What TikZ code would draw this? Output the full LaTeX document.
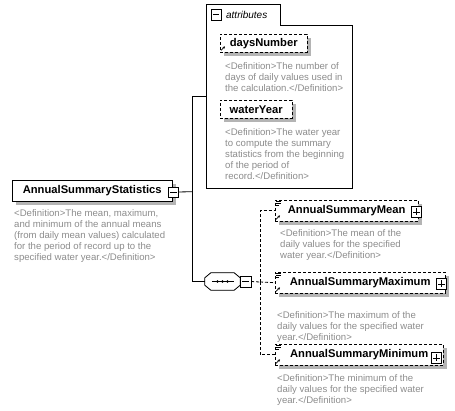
\documentclass[tikz,border=0pt]{standalone}
\usepackage{fontspec}
\setmainfont{Liberation Sans}
\usetikzlibrary{arrows.meta, positioning}
\definecolor{desctext}{RGB}{140,140,140}
\definecolor{shade}{RGB}{180,180,180}
\tikzset{
  shadowed/.style={preaction={fill=shade, draw=none, solid, transform canvas={shift={(4pt,-4pt)}}}},
  elem/.style={rectangle, draw=black, fill=white, anchor=north west, inner sep=0pt,
               font=\bfseries\fontsize{11.2}{13}\selectfont, minimum height=21pt, shadowed},
  optelem/.style={elem, dash pattern=on 3pt off 2pt},
  desc/.style={align=left, inner sep=0pt, text=desctext, font=\fontsize{9.6}{11}\selectfont},
  minusbtn/.style={rectangle, draw=black, fill=white, minimum size=10.5pt, inner sep=0pt,
               path picture={\draw ([xshift=2pt]path picture bounding box.west) -- ([xshift=-2pt]path picture bounding box.east);}},
  plusbtn/.style={rectangle, draw=black, fill=white, minimum size=10.5pt, inner sep=0pt,
               path picture={\draw ([xshift=2pt]path picture bounding box.west) -- ([xshift=-2pt]path picture bounding box.east);
                             \draw ([yshift=2pt]path picture bounding box.south) -- ([yshift=-2pt]path picture bounding box.north);}},
  seqbox/.style={rectangle, minimum width=35pt, minimum height=17pt, inner sep=0pt},
  link/.style={draw=black, line width=0.8pt},
  optlink/.style={link, dash pattern=on 3pt off 2pt},
  refmark/.style={-{Stealth[length=2.5pt,width=2.5pt]}, line width=0.7pt},
}
\newcommand{\octagonpath}[1]{([xshift=6pt]#1.north west) -- ([xshift=-6pt]#1.north east)
  -- ([yshift=-5pt]#1.north east) -- ([yshift=5pt]#1.south east) -- ([xshift=-6pt]#1.south east)
  -- ([xshift=6pt]#1.south west) -- ([yshift=5pt]#1.south west) -- ([yshift=-5pt]#1.north west) -- cycle}

\begin{document}
\begin{tikzpicture}[x=1pt, y=1pt]
  \useasboundingbox (0,0) rectangle (455,-410);

  % Root element
  \node[elem, minimum width=160pt, minimum height=20.5pt] (root) at (12,-180) {AnnualSummaryStatistics};
  \node[minusbtn] (rootbtn) at ([xshift=1pt, yshift=-1.5pt]root.east) {};
  \node[desc, below right=8pt and 2pt of root.south west] (rootdesc)
    {<Definition>The mean, maximum,\\and minimum of the annual means\\(from daily mean values) calculated\\for the period of record up to the\\specified water year.</Definition>};

  % Attributes group
  \node[rectangle, anchor=north west, fill=white, minimum width=146pt, minimum height=163pt, inner sep=0pt] (attr) at (206,-25) {};
  \node[rectangle, anchor=south west, fill=white, minimum width=74pt, minimum height=20pt, inner sep=0pt] (attrtab) at (attr.north west) {};
  \draw[link] (attr.south west) -- (attrtab.north west) -- (attrtab.north east)
    -- (attrtab.south east) -- (attr.north east) -- (attr.south east) -- cycle;
  \node[minusbtn] (attrbtn) at (216,-14.5) {};
  \node[anchor=west, inner sep=0pt, font=\itshape\fontsize{10}{12}\selectfont, right=4.5pt of attrbtn] (attrlabel) {attributes};

  \node[optelem, minimum width=87pt, minimum height=18pt] (days) at (220,-34) {daysNumber};
  \node[desc, below right=10pt and 5pt of days.south west] (daysdesc)
    {<Definition>The number of\\days of daily values used in\\the calculation.</Definition>};
  \node[optelem, minimum width=72pt, minimum height=18pt] (year) at (220,-100) {waterYear};
  \node[desc, below right=9.5pt and 5pt of year.south west] (yeardesc)
    {<Definition>The water year\\to compute the summary\\statistics from the beginning\\of the period of\\record.</Definition>};

  % Sequence
  \node[seqbox] (seq) at (222.5,-281.5) {};
  \fill[shade, shift={(3.5,-3.5)}] \octagonpath{seq};
  \filldraw[link, fill=white] \octagonpath{seq};
  \node[minusbtn] (seqbtn) at ([xshift=5.5pt]seq.east) {};
  \draw[link] ([xshift=7pt]seq.west) -- ([xshift=-6pt]seq.east);
  \fill (seq.center) circle (1.4pt) ++(-5,0) circle (1.4pt) ++(10,0) circle (1.4pt);

  % Child elements
  \node[optelem, minimum width=143pt] (mean) at (275,-200) {AnnualSummaryMean};
  \node[plusbtn] (meanbtn) at ([xshift=-2pt, yshift=-1pt]mean.east) {};
  \node[desc, below right=8pt and 5pt of mean.south west] (meandesc)
    {<Definition>The mean of the\\daily values for the specified\\water year.</Definition>};

  \node[optelem, minimum width=170pt] (max) at (275,-272) {AnnualSummaryMaximum};
  \node[plusbtn] (maxbtn) at ([xshift=-4pt, yshift=-1pt]max.east) {};
  \node[desc, below right=18pt and 2pt of max.south west] (maxdesc)
    {<Definition>The maximum of the\\daily values for the specified water\\year.</Definition>};

  \node[optelem, minimum width=168pt] (min) at (275,-344) {AnnualSummaryMinimum};
  \node[plusbtn] (minbtn) at ([xshift=-7pt, yshift=-3pt]min.east) {};
  \node[desc, below right=9pt and 2pt of min.south west] (mindesc)
    {<Definition>The minimum of the\\daily values for the specified water\\year.</Definition>};

  % Icons
  \draw[refmark] ([shift={(1,2)}]days.south west) -- ++(4,4);
  \draw[refmark] ([shift={(1,2)}]mean.south west) -- ++(4,4);
  \draw[refmark] ([shift={(1,2)}]max.south west) -- ++(4,4);
  \draw[refmark] ([shift={(1,2)}]min.south west) -- ++(4,4);
  \draw[line width=0.6pt] ([shift={(1,-1.5)}]mean.north west) -- ++(5,0) ++(-5,-2) -- ++(5,0) ++(-5,-2) -- ++(3,0);
  \draw[line width=0.6pt] ([shift={(1,-1.5)}]max.north west) -- ++(5,0) ++(-5,-2) -- ++(5,0) ++(-5,-2) -- ++(3,0);
  \draw[line width=0.6pt] ([shift={(1,-1.5)}]min.north west) -- ++(5,0) ++(-5,-2) -- ++(5,0) ++(-5,-2) -- ++(3,0);

  % Connectors
  \coordinate (fork) at (192,-191.75);
  \coordinate (branch) at (260,-282);
  \draw[link] (rootbtn.east) -- (fork);
  \draw[link] (fork) |- ([yshift=10.5pt]attr.west);
  \draw[link] (fork) |- (seq.west);
  \draw[optlink] (seqbtn.east) -- (branch);
  \draw[optlink] (branch) |- (mean.west);
  \draw[optlink] (branch) -- (max.west);
  \draw[optlink] (branch) |- (min.west);

\end{tikzpicture}
\end{document}
